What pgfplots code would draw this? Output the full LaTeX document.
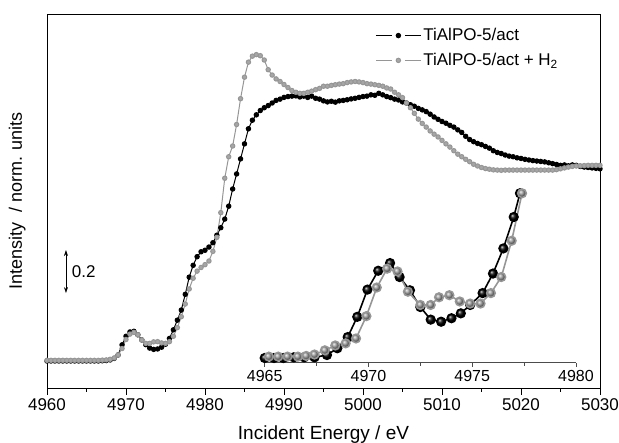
\documentclass[border=0pt]{standalone}
\usepackage{fontspec}
\setmainfont{Liberation Sans}
\usepackage{pgfplots}
\pgfplotsset{compat=1.18}
\usetikzlibrary{arrows.meta}
\definecolor{hgray}{RGB}{150,150,150}

\begin{document}
\begin{tikzpicture}
\path[use as bounding box] (-47pt,-55pt) rectangle (572pt,388pt);
\begin{axis}[
  at={(0pt,0pt)}, anchor=south west,
  scale only axis,
  width=553pt, height=374pt,
  xmin=4960, xmax=5030,
  ymin=-0.1256, ymax=1.614,
  xtick={4960,4970,...,5030},
  minor x tick num=1,
  ytick=\empty,
  xtick pos=left,
  tick align=outside,
  major tick length=7pt,
  minor tick length=4pt,
  every tick/.style={black, line width=0.8pt},
  axis line style={line width=0.8pt},
  /pgf/number format/assume math mode=true,
  xticklabel style={/pgf/number format/1000 sep={}, font=\fontsize{17}{20}\selectfont},
  xlabel={Incident Energy / eV},
  ylabel={Intensity \ / norm. units},
  xlabel style={at={(axis description cs:0.5,-0.139)}, anchor=base, font=\fontsize{19}{22}\selectfont},
  ylabel style={at={(axis description cs:-0.054,0.5)}, anchor=center, font=\fontsize{18}{21}\selectfont},
  legend style={at={(0.588,0.972)}, anchor=north west, draw=none, fill=none,
    font=\fontsize{17}{20}\selectfont, row sep=7pt},
  legend cell align=left,
  legend image code/.code={
    \draw[mark=none] (0pt,0pt) -- (16pt,0pt);
    \draw[mark=none] (29pt,0pt) -- (45pt,0pt);
    \draw[only marks] plot coordinates {(22.5pt,0pt)};
  },
]
\addplot[black, line width=1pt, mark=*, mark size=2.2pt, mark options={fill=black}] coordinates {
(4960,0) (4960.5,0) (4961,0) (4961.5,0) (4962,0) (4962.5,0) (4963,0) (4963.5,0)
(4964,0) (4964.5,0) (4965,0) (4965.5,0) (4966,0) (4966.5,0) (4967,0.001) (4967.5,0.002)
(4968,0.005) (4968.5,0.012) (4969,0.028) (4969.5,0.075) (4970,0.115) (4970.5,0.135)
(4971,0.138) (4971.5,0.122) (4972,0.098) (4972.5,0.076) (4973,0.060) (4973.5,0.054)
(4974,0.056) (4974.5,0.064) (4975,0.078) (4975.5,0.105) (4976,0.145) (4976.5,0.190)
(4977,0.237) (4977.5,0.31) (4978,0.39) (4978.5,0.445) (4979,0.485) (4979.5,0.508)
(4980,0.515) (4980.5,0.53) (4981,0.55) (4981.5,0.585) (4982,0.62) (4982.5,0.66)
(4983,0.72) (4983.5,0.80) (4984,0.87) (4984.5,0.94) (4985,1.01) (4985.5,1.08)
(4986,1.12) (4986.5,1.145) (4987,1.165) (4987.5,1.178) (4988,1.188) (4988.5,1.20)
(4989,1.212) (4989.5,1.218) (4990,1.226) (4990.5,1.230) (4991,1.232) (4991.5,1.233)
(4992,1.228) (4992.5,1.232) (4993,1.226) (4993.5,1.232) (4994,1.222) (4994.5,1.218)
(4995,1.21) (4995.5,1.205) (4996,1.208) (4996.5,1.204) (4997,1.210) (4997.5,1.212)
(4998,1.215) (4998.5,1.219) (4999,1.222) (4999.5,1.226) (5000,1.23) (5000.5,1.232)
(5001,1.238) (5001.5,1.236) (5002,1.245) (5002.5,1.238) (5003,1.23) (5003.5,1.225)
(5004,1.218) (5004.5,1.214) (5005,1.205) (5005.5,1.20) (5006,1.192) (5006.5,1.185)
(5007,1.175) (5007.5,1.168) (5008,1.16) (5008.5,1.148) (5009,1.135) (5009.5,1.124)
(5010,1.114) (5010.5,1.106) (5011,1.096) (5011.5,1.088) (5012,1.075) (5012.5,1.063)
(5013,1.045) (5013.5,1.030) (5014,1.020) (5014.5,1.012) (5015,1.006) (5015.5,0.998)
(5016,0.99) (5016.5,0.978) (5017,0.97) (5017.5,0.965) (5018,0.958) (5018.5,0.953)
(5019,0.950) (5019.5,0.945) (5020,0.942) (5020.5,0.938) (5021,0.935) (5021.5,0.932)
(5022,0.93) (5022.5,0.928) (5023,0.926) (5023.5,0.922) (5024,0.918) (5024.5,0.914)
(5025,0.91) (5025.5,0.912) (5026,0.908) (5026.5,0.912) (5027,0.91) (5027.5,0.905)
(5028,0.902) (5028.5,0.90) (5029,0.898) (5029.5,0.896) (5030,0.894)
};
\addlegendentry{TiAlPO-5/act}
\addplot[hgray, line width=1pt, mark=*, mark size=2.2pt, mark options={fill=hgray!85!white}] coordinates {
(4960,0.003) (4960.5,0.003) (4961,0.003) (4961.5,0.003) (4962,0.003) (4962.5,0.003) (4963,0.003) (4963.5,0.003)
(4964,0.003) (4964.5,0.003) (4965,0.003) (4965.5,0.003) (4966,0.003) (4966.5,0.003) (4967,0.004) (4967.5,0.005)
(4968,0.008) (4968.5,0.014) (4969,0.028) (4969.5,0.058) (4970,0.10) (4970.5,0.125)
(4971,0.133) (4971.5,0.122) (4972,0.098) (4972.5,0.082) (4973,0.082) (4973.5,0.089)
(4974,0.090) (4974.5,0.084) (4975,0.082) (4975.5,0.090) (4976,0.115) (4976.5,0.155)
(4977,0.206) (4977.5,0.265) (4978,0.335) (4978.5,0.385) (4979,0.418) (4979.5,0.435)
(4980,0.448) (4980.5,0.465) (4981,0.51) (4981.5,0.575) (4982,0.69) (4982.5,0.85)
(4983,0.95) (4983.5,1.00) (4984,1.10) (4984.5,1.22) (4985,1.32) (4985.5,1.39)
(4986,1.418) (4986.5,1.425) (4987,1.42) (4987.5,1.40) (4988,1.355) (4988.5,1.33)
(4989,1.312) (4989.5,1.300) (4990,1.286) (4990.5,1.272) (4991,1.258) (4991.5,1.250)
(4992,1.245) (4992.5,1.245) (4993,1.250) (4993.5,1.255) (4994,1.262) (4994.5,1.268)
(4995,1.278) (4995.5,1.278) (4996,1.282) (4996.5,1.285) (4997,1.288) (4997.5,1.29)
(4998,1.295) (4998.5,1.298) (4999,1.30) (4999.5,1.298) (5000,1.295) (5000.5,1.29)
(5001,1.288) (5001.5,1.285) (5002,1.282) (5002.5,1.278) (5003,1.27) (5003.5,1.265)
(5004,1.25) (5004.5,1.238) (5005,1.225) (5005.5,1.20) (5006,1.178) (5006.5,1.152)
(5007,1.125) (5007.5,1.105) (5008,1.088) (5008.5,1.07) (5009,1.055) (5009.5,1.042)
(5010,1.026) (5010.5,1.01) (5011,0.995) (5011.5,0.978) (5012,0.962) (5012.5,0.95)
(5013,0.938) (5013.5,0.927) (5014,0.915) (5014.5,0.907) (5015,0.90) (5015.5,0.895)
(5016,0.892) (5016.5,0.889) (5017,0.888) (5017.5,0.887) (5018,0.888) (5018.5,0.888)
(5019,0.888) (5019.5,0.888) (5020,0.888) (5020.5,0.888) (5021,0.888) (5021.5,0.888)
(5022,0.888) (5022.5,0.888) (5023,0.888) (5023.5,0.888) (5024,0.888) (5024.5,0.89)
(5025,0.894) (5025.5,0.898) (5026,0.902) (5026.5,0.905) (5027,0.907) (5027.5,0.908)
(5028,0.909) (5028.5,0.91) (5029,0.91) (5029.5,0.91) (5030,0.91)
};
\addlegendentry{TiAlPO-5/act + H\textsubscript{2}}
\draw[{Stealth[length=6pt,width=4pt]}-{Stealth[length=6pt,width=4pt]}, line width=0.6pt]
  (axis cs:4962.4,0.316) -- (axis cs:4962.4,0.516);
\node[anchor=west, font=\fontsize{17}{20}\selectfont] at (axis cs:4962.7,0.416) {0.2};
\end{axis}

\begin{axis}[
  at={(217.7pt,25.3pt)}, anchor=south west,
  scale only axis,
  width=311.3pt, height=172.7pt,
  xmin=4965, xmax=4980,
  ymin=-0.0067, ymax=0.2407,
  axis x line*=bottom,
  axis y line=none,
  clip=false,
  xtick={4965,4970,4975,4980},
  minor x tick num=1,
  tick align=outside,
  major tick length=4pt,
  minor tick length=3pt,
  every tick/.style={black!70, line width=0.6pt},
  axis line style={black!70, line width=0.6pt},
  /pgf/number format/assume math mode=true,
  xticklabel style={/pgf/number format/1000 sep={}, font=\fontsize{16}{19}\selectfont},
]
\addplot[black, line width=1.6pt, mark=ball, mark size=4.3pt, mark options={ball color=black}] coordinates {
(4965.0,0) (4965.45,0) (4965.9,0) (4966.4,0.001) (4966.9,0.001) (4967.4,0.001)
(4968.0,0.0043) (4968.5,0.014) (4969.0,0.030) (4969.46,0.059) (4969.95,0.098)
(4970.47,0.125) (4971.04,0.136) (4971.5,0.116) (4972.0,0.097) (4972.5,0.073)
(4973.0,0.055) (4973.5,0.052) (4974.0,0.057) (4974.45,0.064) (4974.9,0.076)
(4975.5,0.093) (4976.0,0.121) (4976.5,0.157) (4977.0,0.202) (4977.3,0.236)
};
\addplot[hgray, line width=1.6pt, mark=ball, mark size=4.3pt, mark options={ball color=hgray}] coordinates {
(4965.2,0.002) (4965.65,0.002) (4966.1,0.002) (4966.6,0.002) (4967.0,0.003) (4967.4,0.005)
(4967.9,0.011) (4968.4,0.018) (4968.9,0.021) (4969.4,0.028) (4969.9,0.060)
(4970.4,0.101) (4970.9,0.128) (4971.4,0.124) (4971.9,0.095) (4972.5,0.076)
(4973.0,0.076) (4973.4,0.087) (4973.9,0.090) (4974.4,0.081) (4974.9,0.078)
(4975.4,0.078) (4975.9,0.093) (4976.4,0.116) (4976.9,0.168) (4977.4,0.236)
};
\end{axis}
\end{tikzpicture}
\end{document}
